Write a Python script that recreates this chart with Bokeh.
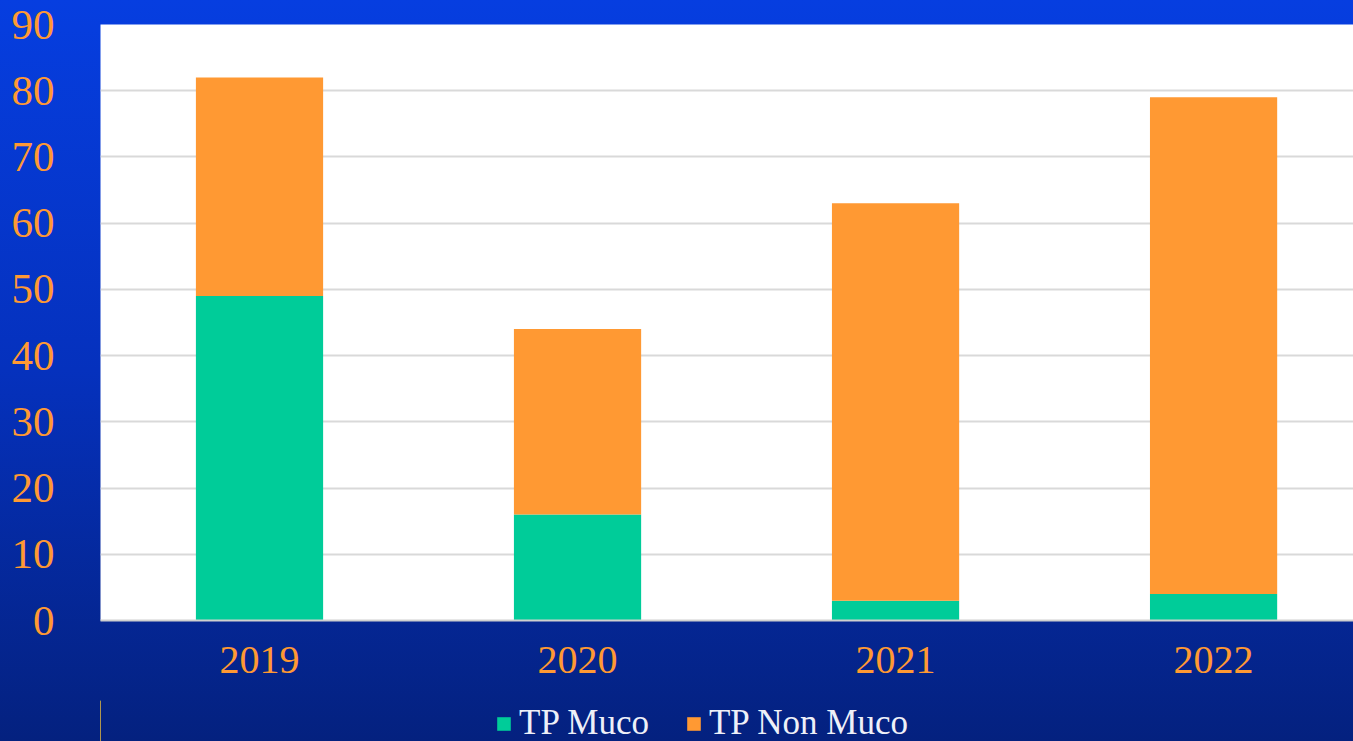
from bokeh.plotting import figure
from bokeh.layouts import column
from bokeh.models import ColumnDataSource, Range1d, Legend, LegendItem, FixedTicker
from bokeh.embed import file_html
from bokeh.resources import INLINE

years = ["2019", "2020", "2021", "2022"]
muco = [49, 16, 3, 4]
non_muco = [33, 28, 60, 75]
y_ticks = [0, 10, 20, 30, 40, 50, 60, 70, 80, 90]
series_names = ["TP Muco", "TP Non Muco"]
series_fields = ["muco", "non_muco"]
series_colors = ["#00cc99", "#ff9933"]

xs = list(range(len(years)))
source = ColumnDataSource(dict(x=xs, muco=muco, non_muco=non_muco))

p = figure(frame_width=1253, frame_height=596,
           output_backend="svg", toolbar_location=None,
           x_range=Range1d(-0.5, 3.44), y_range=Range1d(0, 90),
           min_border_left=100, min_border_right=0, min_border_top=24, min_border_bottom=80)

p.border_fill_alpha = 0
p.background_fill_color = "white"
p.outline_line_color = None

rs = p.vbar_stack(series_fields, x="x", width=0.4, source=source,
                  color=series_colors, line_color=None)

p.xgrid.grid_line_color = None
p.ygrid.grid_line_color = "#d9d9d9"
p.ygrid.grid_line_width = 2
p.yaxis.ticker = FixedTicker(ticks=y_ticks)
p.xaxis.ticker = FixedTicker(ticks=xs)
p.xaxis.major_label_overrides = {i: y for i, y in enumerate(years)}

for ax in (p.xaxis, p.yaxis):
    ax.major_tick_line_color = None
    ax.minor_tick_line_color = None
    ax.major_label_text_color = "#ff9933"
    ax.major_label_text_font = "Liberation Serif"

p.yaxis.axis_line_color = None
p.yaxis.major_label_text_font_size = "43px"
p.yaxis.major_label_standoff = 40
p.xaxis.axis_line_color = "#cfcfcf"
p.xaxis.axis_line_width = 2
p.xaxis.major_label_text_font_size = "40px"
p.xaxis.major_label_standoff = 20

# legend strip below the chart (its key glyphs use the same data, kept out of view)
p2 = figure(frame_width=1353, frame_height=41, output_backend="svg", toolbar_location=None,
            x_range=Range1d(100, 101), y_range=Range1d(0, 1),
            min_border_left=0, min_border_right=0, min_border_top=0, min_border_bottom=0)
p2.border_fill_alpha = 0
p2.background_fill_alpha = 0
p2.outline_line_color = None
p2.axis.visible = False
p2.grid.visible = False
key_rs = [p2.vbar(x="x", top=f, width=0.4, source=source, color=c, line_color=None)
          for f, c in zip(series_fields, series_colors)]

legend = Legend(items=[LegendItem(label=n, renderers=[r]) for n, r in zip(series_names, key_rs)],
                orientation="horizontal", location=(495, -2),
                background_fill_alpha=0, border_line_alpha=0,
                label_text_color="#eef0f8", label_text_font="Liberation Serif",
                label_text_font_size="35px", label_text_line_height=1.0,
                glyph_width=17, glyph_height=17,
                label_standoff=7, spacing=36, padding=0, margin=0)
p2.add_layout(legend, "center")

layout = column(p, p2, spacing=0)
layout.styles = {"background": "linear-gradient(180deg, #063ee0 0px, #0531bd 370px, #04217f 741px, #04217f 100%)"}

open("out.html", "w").write(file_html(layout, INLINE))
